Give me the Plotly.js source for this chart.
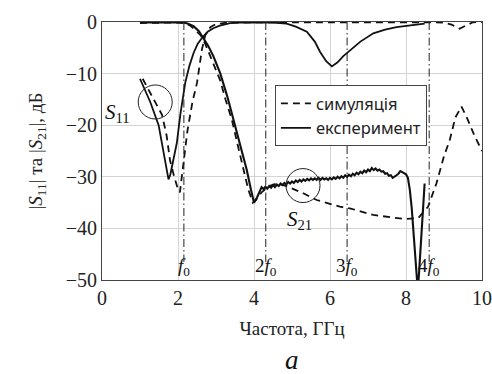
<!DOCTYPE html>
<html>
<head>
<meta charset="utf-8">
<script src="https://cdn.plot.ly/plotly-3.0.1.min.js"></script>
<style>html,body{margin:0;padding:0;background:#fff;}#chart{width:492px;height:374px;}</style>
</head>
<body>
<div id="chart"></div>
<script>
// ---- Data ----
// Simulation |S11|
const simS11X = [1.07, 1.3, 1.58, 1.7, 1.79, 1.9, 2.0, 2.05, 2.15, 2.25, 2.38, 2.5, 2.63, 2.72, 2.85, 3.0, 3.3, 4.0, 6.0, 8.0, 9.0, 9.2, 9.41, 9.6, 9.76, 10.0];
const simS11Y = [-11.0, -14.3, -18.0, -22.0, -26.8, -30.0, -32.4, -33.0, -27.0, -21.0, -15.5, -11.8, -5.3, -2.5, -1.0, -0.4, -0.1, -0.05, -0.05, -0.05, -0.1, -0.5, -1.3, -0.6, -0.05, 0];
// Simulation |S21|
const simS21X = [1.0, 2.0, 2.2, 2.3, 2.45, 2.6, 2.72, 2.85, 3.0, 3.11, 3.25, 3.42, 3.57, 3.72, 3.85, 3.97, 4.05, 4.2, 4.4, 4.6, 4.86, 5.3, 5.65, 6.26, 6.52, 7.14, 7.6, 7.97, 8.32, 8.58, 8.8, 9.0, 9.15, 9.3, 9.46, 9.6, 9.8, 10.0];
const simS21Y = [-0.2, -0.1, -0.3, -0.6, -1.5, -2.6, -4.3, -6.6, -9.3, -11.3, -15.0, -19.0, -23.8, -28.7, -32.5, -35.0, -34.5, -33.0, -31.8, -31.3, -31.8, -33.2, -34.5, -35.8, -36.1, -37.4, -37.8, -38.2, -38.0, -35.8, -31.3, -26.0, -22.9, -18.5, -16.4, -18.5, -22.0, -25.0];
// Experiment |S11|
const expS11X = [1.0, 1.27, 1.49, 1.6, 1.68, 1.75, 1.8, 1.88, 1.97, 2.06, 2.19, 2.3, 2.41, 2.52, 2.63, 2.78, 2.93, 3.1, 3.37, 3.6, 4.0, 4.5, 4.86, 5.1, 5.39, 5.6, 5.74, 5.9, 6.05, 6.2, 6.35, 6.52, 6.8, 7.14, 7.45, 7.75, 8.1, 8.49];
const expS11Y = [-11.0, -15.5, -20.0, -24.5, -28.0, -30.5, -29.5, -26.5, -23.4, -18.0, -11.8, -8.5, -6.0, -4.2, -3.1, -1.9, -1.2, -0.7, -0.2, -0.1, -0.1, -0.1, -0.3, -0.9, -1.9, -3.8, -5.8, -7.6, -8.6, -7.8, -6.6, -5.5, -3.8, -2.2, -1.5, -1.0, -0.6, -0.3];
// Experiment |S21| (measured, noisy in the stop band)
const expS21X = [1.0, 1.5, 2.0, 2.14, 2.25, 2.41, 2.55, 2.67, 2.8, 2.93, 3.11, 3.3, 3.46, 3.65, 3.81, 3.92, 4.0, 4.08, 4.15,
  4.20, 4.25, 4.30, 4.35, 4.40, 4.45, 4.50, 4.55, 4.60, 4.65, 4.70, 4.75, 4.80, 4.85, 4.90, 4.95, 5.00, 5.05, 5.10, 5.15,
  5.20, 5.25, 5.30, 5.35, 5.40, 5.45, 5.50, 5.55, 5.60, 5.65, 5.70, 5.75, 5.80, 5.85, 5.90, 5.95, 6.00, 6.05, 6.10, 6.15,
  6.20, 6.25, 6.30, 6.35, 6.40, 6.45, 6.50, 6.55, 6.60, 6.65, 6.70, 6.75, 6.80, 6.85, 6.90, 6.95, 7.00, 7.05, 7.10, 7.15,
  7.20, 7.25, 7.30, 7.35, 7.40, 7.45, 7.50, 7.55, 7.60, 7.65, 7.70, 7.75, 7.80, 7.85, 7.90, 7.95, 8.00, 8.05,
  8.10, 8.15, 8.20, 8.25, 8.29, 8.31, 8.34, 8.38, 8.42, 8.46, 8.49];
const expS21Y = [-0.1, -0.1, 0, -0.1, -0.3, -0.8, -1.8, -3.1, -4.7, -6.6, -9.9, -14.5, -19.0, -24.0, -28.7, -32.5, -35.0, -34.0, -32.8,
  -32.0, -32.4, -31.9, -32.3, -31.8, -32.1, -31.6, -32.0, -31.5, -31.8, -31.3, -31.6, -31.2, -31.5, -31.0, -31.3, -30.9, -31.2, -30.7, -31.0,
  -30.6, -30.9, -30.5, -30.8, -30.4, -30.7, -30.3, -30.6, -30.3, -30.6, -30.2, -30.6, -30.2, -30.5, -30.3, -30.6, -30.2, -30.5, -30.1, -30.4,
  -30.0, -30.3, -29.9, -30.2, -29.7, -30.0, -29.6, -29.9, -29.4, -29.7, -29.2, -29.5, -29.0, -29.3, -28.8, -29.1, -28.6, -28.9, -28.3, -28.7,
  -28.4, -28.8, -28.6, -29.0, -28.9, -29.4, -29.3, -29.8, -29.7, -30.2, -30.0, -29.7, -29.4, -28.9, -29.1, -29.3, -29.5, -30.2,
  -32.5, -36.0, -40.5, -45.5, -50.0, -52.0, -49.0, -44.5, -40.0, -35.0, -31.3];
// Harmonic markers f0, 2f0, 3f0, 4f0
const harmX = [2.155, 4.31, 6.45, 8.61];
const harmLabels = ['<i>f</i><sub>0</sub>', '2<i>f</i><sub>0</sub>', '3<i>f</i><sub>0</sub>', '4<i>f</i><sub>0</sub>'];
const harmTop = 0, harmBottom = -46.5;
// Highlight circles and their labels
const circleX = [1.40, 5.29];
const circleY = [-15.5, -31.7];
const circleLabels = ['<i>S</i><sub>11</sub>', '<i>S</i><sub>21</sub>'];
const circleLabelX = [0.42, 5.21];
const circleLabelY = [-17.7, -38.4];

const serif = 'Liberation Serif, DejaVu Serif, serif';
const black = '#111';
const dashPat = '7px,5px';

const traces = [
  {x: simS11X, y: simS11Y, mode: 'lines', name: 'симуляція', line: {color: black, width: 1.8, dash: dashPat}, showlegend: true},
  {x: expS11X, y: expS11Y, mode: 'lines', name: 'експеримент', line: {color: black, width: 1.8}, showlegend: true},
  {x: simS21X, y: simS21Y, mode: 'lines', name: 'симуляція S21', line: {color: black, width: 1.8, dash: dashPat}, showlegend: false},
  {x: expS21X, y: expS21Y, mode: 'lines', name: 'експеримент S21', line: {color: black, width: 2.1}, showlegend: false}
];
harmX.forEach(function (hx) {
  traces.push({x: [hx, hx], y: [harmTop, harmBottom], mode: 'lines', showlegend: false, hoverinfo: 'skip',
    line: {color: '#222', width: 1, dash: '8px,3px,1.5px,3px'}});
});

const annotations = harmX.map(function (hx, i) {
  return {x: hx, y: -50, xref: 'x', yref: 'y', text: harmLabels[i], showarrow: false,
    xanchor: 'center', yanchor: 'bottom', yshift: -1, font: {family: serif, size: 19, color: black}};
});
circleLabels.forEach(function (t, i) {
  annotations.push({x: circleLabelX[i], y: circleLabelY[i], xref: 'x', yref: 'y', text: t, showarrow: false,
    xanchor: 'center', yanchor: 'middle', font: {family: serif, size: 21, color: black}});
});
annotations.push({x: 0.5, y: -0.31, xref: 'paper', yref: 'paper', text: '<i>a</i>', showarrow: false,
  xanchor: 'center', yanchor: 'middle', font: {family: serif, size: 27, color: black}});

const shapes = circleX.map(function (cx, i) {
  return {type: 'circle', xref: 'x', yref: 'y', xsizemode: 'pixel', ysizemode: 'pixel',
    xanchor: cx, yanchor: circleY[i], x0: -17, x1: 17, y0: -17, y1: 17,
    line: {color: '#222', width: 1}};
});

const axisCommon = {
  showgrid: true, gridcolor: '#d4d4d4', gridwidth: 1, zeroline: false,
  showline: true, mirror: true, linecolor: '#444', linewidth: 1, ticks: '',
  tickfont: {family: serif, size: 20, color: '#222'}
};

const layout = {
  width: 492, height: 374,
  margin: {l: 102, r: 10, t: 22, b: 94},
  paper_bgcolor: '#fff', plot_bgcolor: '#fff',
  showlegend: true,
  legend: {x: 0.455, y: 0.755, xanchor: 'left', yanchor: 'top', bgcolor: '#fff',
    bordercolor: '#444', borderwidth: 1, font: {family: 'Noto Sans, DejaVu Sans, sans-serif', size: 16.5, color: '#222'},
    tracegroupgap: 0},
  xaxis: Object.assign({}, axisCommon, {range: [0, 10], tick0: 0, dtick: 2,
    title: {text: 'Частота, ГГц', font: {family: serif, size: 19, color: '#222'}, standoff: 13}}),
  yaxis: Object.assign({}, axisCommon, {range: [-50, 0], tick0: 0, dtick: 10,
    title: {text: '|<i>S</i><sub>11</sub>| та |<i>S</i><sub>21</sub>|, дБ', font: {family: serif, size: 19, color: '#222'}, standoff: 18}}),
  annotations: annotations,
  shapes: shapes
};

Plotly.newPlot('chart', traces, layout, {staticPlot: true, displayModeBar: false});
</script>
</body>
</html>
